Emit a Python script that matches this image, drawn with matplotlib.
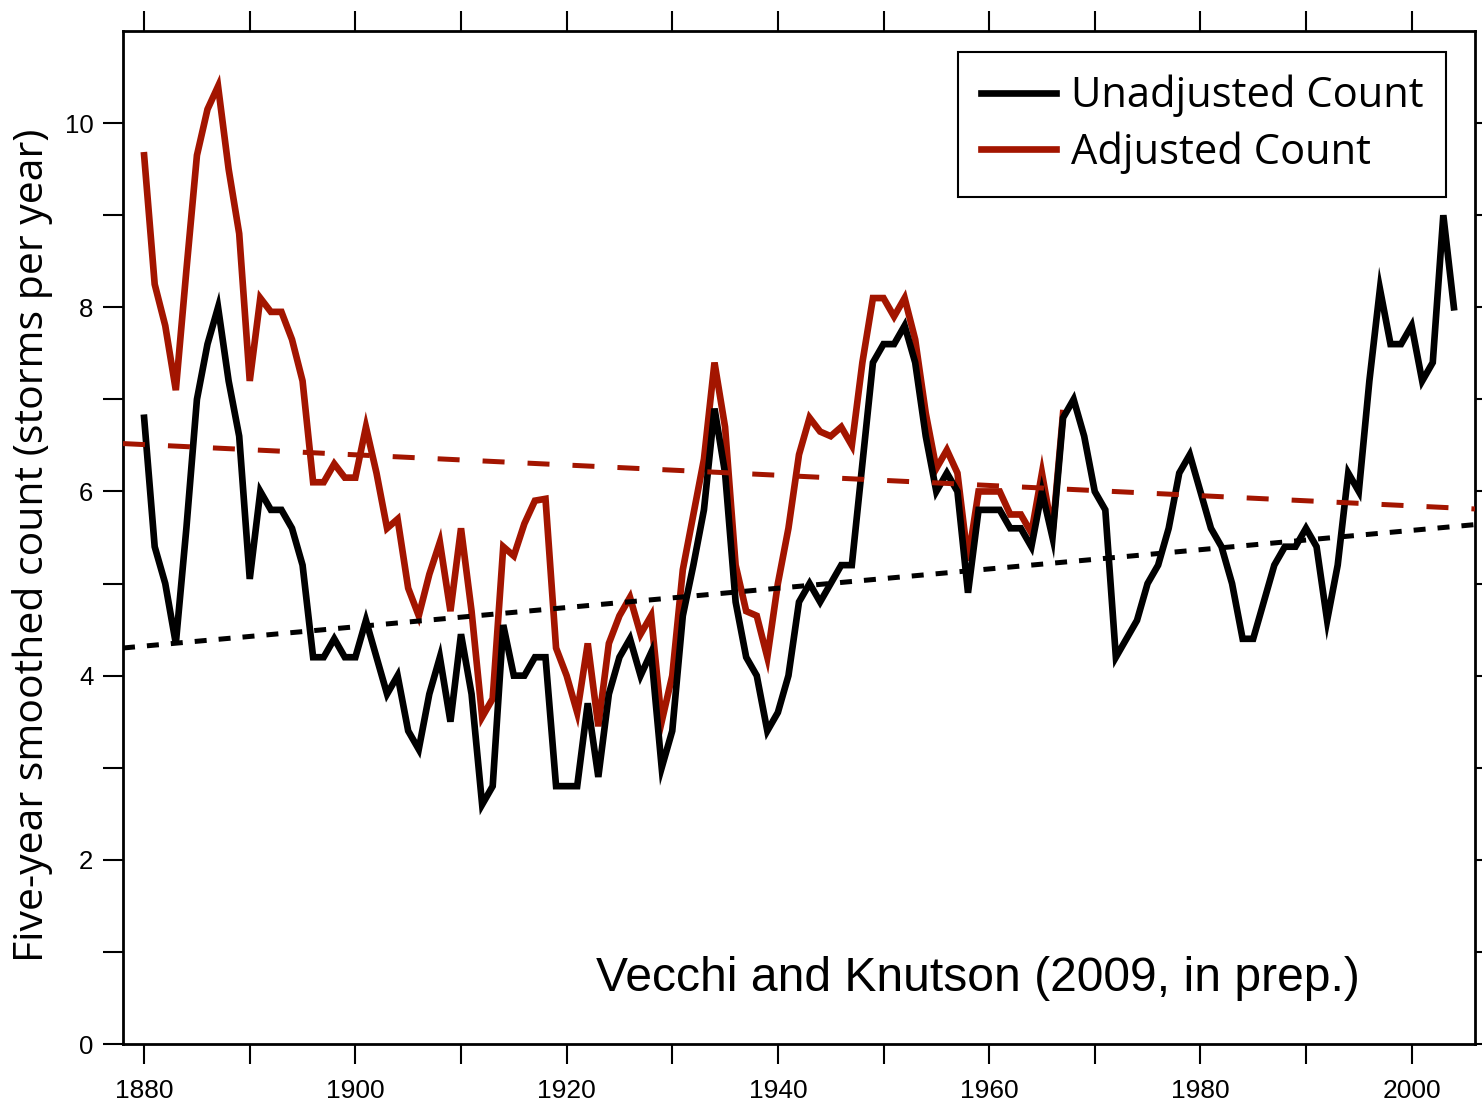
import numpy as np
import matplotlib
matplotlib.use("Agg")
import matplotlib.pyplot as plt
from matplotlib.lines import Line2D

years = list(range(1880, 2005))
unadjusted = [
    6.8, 5.4, 5.0, 4.35, 5.6, 7.0, 7.6, 8.0, 7.2, 6.6,
    5.05, 6.0, 5.8, 5.8, 5.6, 5.2, 4.2, 4.2, 4.4, 4.2,
    4.2, 4.6, 4.2, 3.8, 4.0, 3.4, 3.2, 3.8, 4.2, 3.5,
    4.45, 3.8, 2.6, 2.8, 4.55, 4.0, 4.0, 4.2, 4.2, 2.8,
    2.8, 2.8, 3.7, 2.9, 3.8, 4.2, 4.4, 4.0, 4.25, 3.0,
    3.4, 4.65, 5.2, 5.8, 6.9, 6.2, 4.8, 4.2, 4.0, 3.4,
    3.6, 4.0, 4.8, 5.0, 4.8, 5.0, 5.2, 5.2, 6.3, 7.4,
    7.6, 7.6, 7.8, 7.4, 6.6, 6.0, 6.2, 6.0, 4.9, 5.8,
    5.8, 5.8, 5.6, 5.6, 5.4, 6.0, 5.5, 6.8, 7.0, 6.6,
    6.0, 5.8, 4.2, 4.4, 4.6, 5.0, 5.2, 5.6, 6.2, 6.4,
    6.0, 5.6, 5.4, 5.0, 4.4, 4.4, 4.8, 5.2, 5.4, 5.4,
    5.6, 5.4, 4.6, 5.2, 6.2, 6.0, 7.2, 8.2, 7.6, 7.6,
    7.8, 7.2, 7.4, 9.0, 8.0,
]
adj_years = list(range(1880, 1968))
adjusted = [
    9.65, 8.25, 7.8, 7.1, 8.4, 9.65, 10.15, 10.4, 9.5, 8.8,
    7.2, 8.1, 7.95, 7.95, 7.65, 7.2, 6.1, 6.1, 6.3, 6.15,
    6.15, 6.7, 6.2, 5.6, 5.7, 4.95, 4.65, 5.1, 5.45, 4.7,
    5.6, 4.7, 3.55, 3.75, 5.4, 5.3, 5.65, 5.9, 5.92, 4.3,
    4.0, 3.6, 4.35, 3.45, 4.35, 4.65, 4.85, 4.45, 4.65, 3.5,
    4.0, 5.15, 5.75, 6.35, 7.4, 6.7, 5.2, 4.7, 4.65, 4.2,
    5.0, 5.6, 6.4, 6.8, 6.65, 6.6, 6.7, 6.5, 7.4, 8.1,
    8.1, 7.9, 8.1, 7.65, 6.85, 6.25, 6.45, 6.2, 5.25, 6.0,
    6.0, 6.0, 5.75, 5.75, 5.55, 6.2, 5.55, 6.85,
]
trend_years = [1878, 2006]
unadj_trend = [4.30, 5.64]
adj_trend = [6.52, 5.81]

x_ticks = list(range(1880, 2001, 10))
x_labels = [str(y) if y % 20 == 0 else "" for y in x_ticks]
y_ticks = list(range(0, 11))
y_labels = [str(v) if v % 2 == 0 else "" for v in y_ticks]

RED = "#a31500"
W, H = 1482, 1101
fig = plt.figure(figsize=(W / 100, H / 100), dpi=100)
ax = fig.add_axes([123 / W, 1 - 1044 / H, (1475 - 123) / W, (1044 - 31) / H])

ax.plot(adj_years, adjusted, color=RED, lw=4.8, solid_joinstyle="miter", zorder=2)
ax.plot(years, unadjusted, color="black", lw=4.8, solid_joinstyle="miter", zorder=3)
ax.plot(trend_years, adj_trend, color=RED, lw=3.6, dashes=(4.4, 4.6),
        dash_capstyle="butt", zorder=4)
ax.plot(trend_years, unadj_trend, color="black", lw=3.6, dashes=(2.4, 2.4),
        dash_capstyle="butt", zorder=4)

ax.set_xlim(1878, 2006)
ax.set_ylim(0, 11)

tickfont = ["Liberation Sans", "DejaVu Sans"]
ax.set_xticks(x_ticks)
ax.set_xticklabels(x_labels, family=tickfont, fontsize=19)
ax.set_yticks(y_ticks)
ax.set_yticklabels(y_labels, family=tickfont, fontsize=18.5)
ax.tick_params(axis="x", which="both", direction="out", length=14.4, width=1.5,
               pad=11, top=True, bottom=True)
ax.tick_params(axis="y", which="both", direction="out", length=14.4, width=1.5,
               pad=7, left=True, right=True)
for s in ax.spines.values():
    s.set_linewidth(2)

handles = [Line2D([], [], color="black", lw=4.8), Line2D([], [], color=RED, lw=4.8)]
leg = ax.legend(handles, ["Unadjusted Count", "Adjusted Count"],
                loc="upper right", bbox_to_anchor=(0.9786, 0.9793),
                borderaxespad=0, fancybox=False, framealpha=1,
                edgecolor="black", handlelength=1.8, handletextpad=0.36,
                borderpad=0.55, labelspacing=0.34,
                prop={"family": ["Open Sans", "DejaVu Sans"], "size": 30})
leg.get_frame().set_linewidth(1.5)

ax.text(0.632, 0.065, "Vecchi and Knutson (2009, in prep.)", transform=ax.transAxes,
        ha="center", va="center", fontsize=34.6,
        family=["Liberation Sans", "DejaVu Sans"])

fig.text(33 / W, 1 - 545 / H, "Five-year smoothed count (storms per year)",
         rotation=90, ha="center", va="center", fontsize=29.5,
         family=["Open Sans", "DejaVu Sans"])

fig.savefig("out.png", dpi=100)
